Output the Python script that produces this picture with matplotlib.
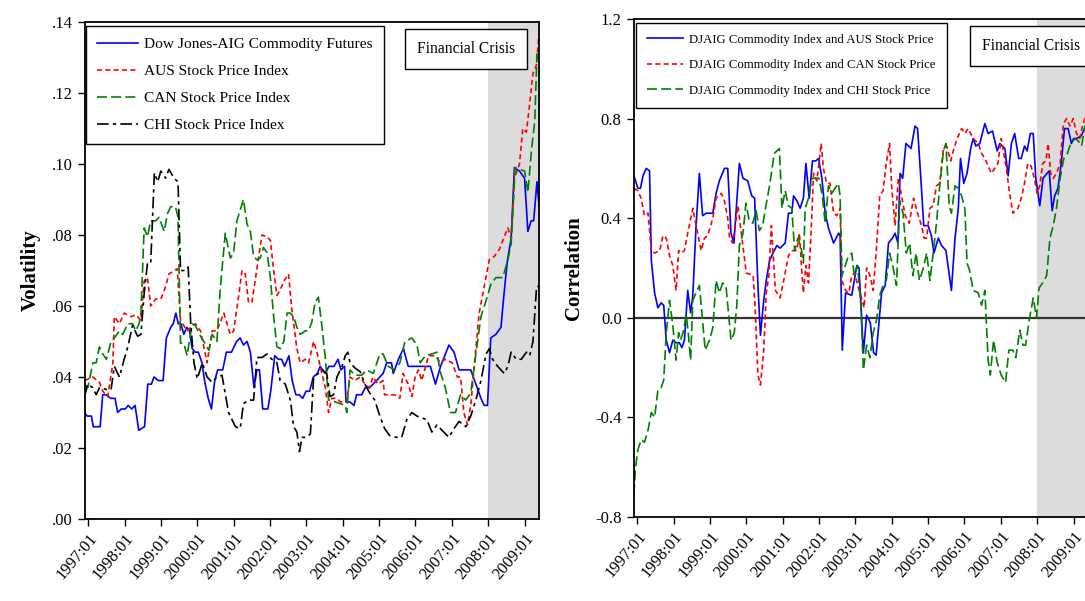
import matplotlib
matplotlib.use("Agg")
import matplotlib.pyplot as plt
from matplotlib.ticker import FixedLocator, FuncFormatter

plt.rcParams["font.family"] = ["Liberation Serif", "DejaVu Serif"]

# ---- left panel: volatility ----
dj_t = [1996.90, 1996.97, 1997.09, 1997.14, 1997.33, 1997.40, 1997.50, 1997.62, 1997.74, 1997.81,
        1997.91, 1998.02, 1998.10, 1998.20, 1998.29, 1998.39, 1998.55, 1998.64, 1998.74, 1998.81,
        1998.93, 1999.06, 1999.15, 1999.27, 1999.34, 1999.41, 1999.48, 1999.55, 1999.63, 1999.71,
        1999.79, 1999.86, 1999.94, 2000.03, 2000.13, 2000.20, 2000.30, 2000.39, 2000.48, 2000.56,
        2000.70, 2000.80, 2000.94, 2001.08, 2001.18, 2001.27, 2001.37, 2001.46, 2001.56, 2001.64,
        2001.71, 2001.80, 2001.94, 2002.02, 2002.13, 2002.23, 2002.32, 2002.40, 2002.52, 2002.61,
        2002.71, 2002.80, 2002.90, 2002.99, 2003.09, 2003.19, 2003.30, 2003.38, 2003.52, 2003.62,
        2003.76, 2003.87, 2003.95, 2004.05, 2004.09, 2004.19, 2004.31, 2004.38, 2004.52, 2004.62,
        2004.74, 2004.93, 2005.11, 2005.21, 2005.34, 2005.39, 2005.53, 2005.67, 2005.80, 2006.13,
        2006.27, 2006.41, 2006.55, 2006.69, 2006.92, 2007.06, 2007.20, 2007.52, 2007.66, 2007.80,
        2007.89, 2007.98, 2008.07, 2008.21, 2008.35, 2008.44, 2008.53, 2008.63, 2008.72, 2008.86,
        2009.00, 2009.09, 2009.18, 2009.25, 2009.34, 2009.40]
dj_v = [.030, .029, .029, .026, .026, .035, .035, .034, .034, .030,
        .031, .031, .032, .031, .032, .025, .026, .038, .038, .040,
        .039, .039, .051, .054, .055, .058, .055, .055, .052, .054,
        .053, .048, .047, .047, .044, .039, .034, .031, .039, .042,
        .042, .047, .047, .050, .051, .049, .050, .047, .037, .042,
        .042, .031, .031, .036, .046, .045, .045, .043, .046, .039,
        .035, .035, .034, .036, .036, .040, .041, .043, .041, .043,
        .043, .045, .042, .043, .033, .033, .032, .035, .035, .037,
        .037, .039, .041, .044, .044, .041, .045, .048, .043, .043,
        .043, .043, .038, .043, .049, .047, .042, .042, .038, .034,
        .032, .032, .051, .052, .054, .064, .073, .079, .099, .098,
        .096, .081, .084, .084, .095, .088]

aus_t = [1996.90, 1997.13, 1997.31, 1997.40, 1997.54, 1997.68, 1997.72, 1997.86, 1997.99, 1998.18,
         1998.31, 1998.45, 1998.54, 1998.63, 1998.72, 1998.86, 1999.00, 1999.13, 1999.22, 1999.45,
         1999.54, 1999.72, 1999.82, 1999.95, 2000.09, 2000.27, 2000.41, 2000.54, 2000.73, 2000.91,
         2001.00, 2001.14, 2001.23, 2001.32, 2001.41, 2001.50, 2001.59, 2001.69, 2001.78, 2001.92,
         2002.01, 2002.10, 2002.19, 2002.28, 2002.38, 2002.51, 2002.60, 2002.74, 2002.83, 2002.97,
         2003.06, 2003.20, 2003.29, 2003.38, 2003.52, 2003.61, 2003.70, 2003.84, 2003.93, 2004.02,
         2004.11, 2004.20, 2004.34, 2004.48, 2004.61, 2004.74, 2004.83, 2004.97, 2005.11, 2005.15,
         2005.43, 2005.57, 2005.66, 2005.80, 2005.90, 2005.99, 2006.08, 2006.17, 2006.36, 2006.55,
         2006.68, 2006.82, 2007.01, 2007.15, 2007.24, 2007.33, 2007.43, 2007.52, 2007.66, 2007.75,
         2007.89, 2008.03, 2008.17, 2008.31, 2008.44, 2008.54, 2008.63, 2008.72, 2008.86, 2008.95,
         2009.05, 2009.14, 2009.23, 2009.33, 2009.39]
aus_v = [.039, .040, .0385, .036, .0345, .044, .057, .055, .058, .057,
         .0575, .056, .067, .068, .060, .062, .062, .0655, .069, .0705,
         .056, .053, .054, .055, .053, .044, .053, .053, .058, .052,
         .053, .063, .070, .069, .061, .061, .067, .074, .080, .0795,
         .0785, .070, .063, .0645, .067, .069, .059, .048, .044, .045,
         .044, .050, .047, .043, .037, .030, .034, .034, .033, .033,
         .033, .040, .039, .040, .038, .037, .040, .038, .039, .035,
         .035, .034, .041, .038, .0345, .040, .042, .039, .046, .046,
         .044, .045, .044, .040, .040, .030, .0265, .032, .048, .058,
         .0655, .073, .074, .076, .0795, .082, .079, .096, .100, .110,
         .109, .117, .1255, .128, .136]

can_t = [1996.90, 1996.99, 1997.13, 1997.22, 1997.31, 1997.40, 1997.50, 1997.63, 1997.72, 1997.86,
         1997.95, 1998.09, 1998.22, 1998.31, 1998.40, 1998.45, 1998.54, 1998.63, 1998.72, 1998.86,
         1998.95, 1999.09, 1999.18, 1999.27, 1999.40, 1999.47, 1999.54, 1999.63, 1999.72, 1999.86,
         1999.95, 2000.09, 2000.18, 2000.32, 2000.41, 2000.54, 2000.63, 2000.77, 2000.91, 2001.00,
         2001.09, 2001.18, 2001.27, 2001.37, 2001.46, 2001.55, 2001.64, 2001.73, 2001.82, 2001.92,
         2002.01, 2002.10, 2002.19, 2002.28, 2002.38, 2002.47, 2002.56, 2002.65, 2002.74, 2002.83,
         2002.97, 2003.06, 2003.15, 2003.24, 2003.33, 2003.43, 2003.52, 2003.61, 2003.70, 2003.79,
         2003.93, 2004.07, 2004.11, 2004.20, 2004.34, 2004.52, 2004.66, 2004.84, 2005.02, 2005.11,
         2005.25, 2005.43, 2005.57, 2005.71, 2005.90, 2006.04, 2006.13, 2006.27, 2006.45, 2006.59,
         2006.68, 2006.82, 2006.96, 2007.10, 2007.24, 2007.38, 2007.52, 2007.66, 2007.80, 2007.94,
         2008.07, 2008.21, 2008.40, 2008.54, 2008.63, 2008.74, 2008.86, 2009.00, 2009.09, 2009.19,
         2009.28, 2009.34, 2009.40]
can_v = [.038, .037, .044, .044, .0485, .0465, .045, .050, .051, .053,
         .052, .055, .055, .053, .055, .058, .082, .0795, .084, .084,
         .085, .081, .086, .088, .088, .085, .0495, .0495, .046, .055,
         .0545, .0515, .050, .0475, .052, .050, .0645, .0805, .0735, .075,
         .084, .087, .090, .083, .081, .074, .073, .0735, .0765, .075,
         .068, .057, .0485, .048, .050, .058, .058, .057, .054, .052,
         .053, .053, .0555, .061, .0625, .054, .0455, .0335, .0335, .033,
         .0325, .032, .030, .042, .0405, .0405, .042, .041, .0465, .0465,
         .043, .042, .044, .050, .051, .049, .044, .046, .0465, .047,
         .0415, .037, .030, .030, .035, .0335, .0355, .0465, .057, .0615,
         .066, .068, .068, .073, .0775, .099, .0985, .098, .092, .104,
         .112, .131, .1305]

chi_t = [1996.90, 1996.99, 1997.13, 1997.22, 1997.31, 1997.50, 1997.63, 1997.72, 1997.86, 1997.99,
         1998.09, 1998.22, 1998.36, 1998.45, 1998.54, 1998.63, 1998.72, 1998.82, 1998.91, 1999.00,
         1999.13, 1999.22, 1999.36, 1999.47, 1999.54, 1999.68, 1999.75, 1999.82, 1999.91, 2000.00,
         2000.14, 2000.27, 2000.41, 2000.54, 2000.68, 2000.86, 2001.05, 2001.18, 2001.27, 2001.41,
         2001.55, 2001.64, 2001.78, 2001.92, 2002.05, 2002.19, 2002.28, 2002.42, 2002.56, 2002.65,
         2002.74, 2002.81, 2002.88, 2003.01, 2003.11, 2003.20, 2003.33, 2003.43, 2003.56, 2003.65,
         2003.75, 2003.84, 2003.98, 2004.07, 2004.14, 2004.20, 2004.34, 2004.48, 2004.61, 2004.74,
         2004.88, 2005.02, 2005.15, 2005.29, 2005.48, 2005.62, 2005.76, 2005.90, 2006.04, 2006.17,
         2006.31, 2006.45, 2006.59, 2006.73, 2006.92, 2007.06, 2007.20, 2007.38, 2007.52, 2007.66,
         2007.80, 2007.94, 2008.03, 2008.12, 2008.26, 2008.44, 2008.54, 2008.63, 2008.77, 2008.91,
         2009.05, 2009.14, 2009.23, 2009.33, 2009.40]
chi_v = [.0345, .038, .037, .035, .037, .0365, .0365, .043, .040, .045,
         .0485, .0545, .0515, .052, .0635, .072, .072, .0975, .095, .098,
         .096, .0985, .096, .095, .070, .070, .071, .055, .044, .0395,
         .044, .040, .0385, .040, .0405, .030, .026, .0255, .0325, .0335,
         .0335, .0455, .0455, .0465, .045, .044, .039, .038, .0335, .026,
         .0245, .019, .023, .023, .024, .040, .041, .042, .041, .0345,
         .035, .040, .043, .046, .047, .044, .0425, .0415, .038, .0355,
         .0335, .029, .0255, .0235, .023, .023, .028, .030, .029, .0285,
         .028, .0245, .0265, .025, .023, .0255, .0275, .026, .029, .0335,
         .039, .0465, .048, .045, .043, .041, .043, .047, .045, .045,
         .047, .046, .050, .0655, .0655]

# ---- right panel: correlation ----
aus_c_t = [1996.91, 1997.02, 1997.09, 1997.16, 1997.25, 1997.34, 1997.39, 1997.48, 1997.57, 1997.66,
           1997.73, 1997.80, 1997.89, 1997.98, 1998.07, 1998.16, 1998.23, 1998.30, 1998.39, 1998.47,
           1998.53, 1998.62, 1998.71, 1998.80, 1998.90, 1998.99, 1999.08, 1999.17, 1999.26, 1999.40,
           1999.49, 1999.58, 1999.66, 1999.81, 1999.91, 2000.04, 2000.15, 2000.23, 2000.32, 2000.39,
           2000.48, 2000.55, 2000.64, 2000.77, 2000.84, 2000.93, 2001.07, 2001.16, 2001.25, 2001.30,
           2001.39, 2001.48, 2001.57, 2001.64, 2001.73, 2001.82, 2001.91, 2001.99, 2002.08, 2002.17,
           2002.26, 2002.40, 2002.54, 2002.58, 2002.64, 2002.73, 2002.90, 2003.04, 2003.10, 2003.22,
           2003.31, 2003.41, 2003.50, 2003.57, 2003.72, 2003.82, 2003.91, 2004.02, 2004.09, 2004.17,
           2004.23, 2004.30, 2004.39, 2004.53, 2004.64, 2004.71, 2004.80, 2004.88, 2005.00, 2005.09,
           2005.16, 2005.28, 2005.37, 2005.49, 2005.64, 2005.74, 2005.83, 2005.89, 2005.98, 2006.07,
           2006.17, 2006.24, 2006.31, 2006.42, 2006.56, 2006.65, 2006.77, 2006.90, 2006.97, 2007.11,
           2007.20, 2007.29, 2007.38, 2007.49, 2007.56, 2007.65, 2007.72, 2007.81, 2007.89, 2007.96,
           2008.07, 2008.16, 2008.27, 2008.33, 2008.41, 2008.48, 2008.57, 2008.66, 2008.75, 2008.85,
           2008.94, 2009.00, 2009.07, 2009.21, 2009.30, 2009.40]
aus_c_v = [0.57, 0.52, 0.52, 0.57, 0.60, 0.59, 0.23, 0.10, 0.04, 0.06,
           0.05, -0.09, -0.14, -0.09, -0.10, -0.10, -0.12, -0.09, 0.11, 0.02,
           0.09, 0.37, 0.58, 0.41, 0.42, 0.42, 0.42, 0.50, 0.55, 0.60,
           0.60, 0.34, 0.30, 0.62, 0.56, 0.55, 0.49, 0.48, 0.13, -0.07,
           0.07, 0.15, 0.23, 0.27, 0.29, 0.28, 0.30, 0.42, 0.42, 0.49,
           0.47, 0.44, 0.48, 0.62, 0.48, 0.63, 0.63, 0.64, 0.56, 0.42,
           0.36, 0.30, 0.34, 0.33, -0.13, 0.10, 0.09, 0.21, 0.20, -0.14,
           0.01, -0.02, -0.14, -0.15, 0.10, 0.13, 0.30, 0.32, 0.34, 0.30,
           0.58, 0.56, 0.70, 0.68, 0.77, 0.76, 0.56, 0.37, 0.37, 0.33,
           0.26, 0.32, 0.29, 0.27, 0.11, 0.32, 0.44, 0.64, 0.54, 0.58,
           0.68, 0.72, 0.69, 0.70, 0.78, 0.74, 0.75, 0.67, 0.70, 0.68,
           0.57, 0.70, 0.74, 0.64, 0.64, 0.69, 0.67, 0.74, 0.74, 0.56,
           0.45, 0.56, 0.58, 0.59, 0.43, 0.49, 0.52, 0.62, 0.76, 0.76,
           0.70, 0.72, 0.72, 0.73, 0.76, 0.75]

can_c_t = [1996.91, 1997.02, 1997.11, 1997.20, 1997.30, 1997.39, 1997.48, 1997.62, 1997.71, 1997.80,
           1997.89, 1997.98, 1998.07, 1998.14, 1998.21, 1998.30, 1998.39, 1998.53, 1998.62, 1998.76,
           1998.85, 1998.94, 1999.08, 1999.17, 1999.31, 1999.40, 1999.49, 1999.54, 1999.63, 1999.77,
           1999.88, 2000.00, 2000.19, 2000.25, 2000.32, 2000.39, 2000.48, 2000.55, 2000.62, 2000.69,
           2000.80, 2000.93, 2001.03, 2001.16, 2001.27, 2001.39, 2001.46, 2001.53, 2001.57, 2001.64,
           2001.71, 2001.79, 2001.85, 2001.94, 2002.00, 2002.06, 2002.12, 2002.21, 2002.30, 2002.40,
           2002.49, 2002.58, 2002.63, 2002.73, 2002.82, 2002.90, 2002.99, 2003.06, 2003.15, 2003.24,
           2003.31, 2003.40, 2003.49, 2003.58, 2003.67, 2003.76, 2003.85, 2003.94, 2004.00, 2004.09,
           2004.18, 2004.28, 2004.37, 2004.48, 2004.60, 2004.71, 2004.82, 2004.89, 2004.96, 2005.05,
           2005.14, 2005.23, 2005.32, 2005.42, 2005.51, 2005.62, 2005.71, 2005.80, 2005.92, 2006.01,
           2006.10, 2006.24, 2006.38, 2006.47, 2006.56, 2006.65, 2006.74, 2006.83, 2006.92, 2007.01,
           2007.15, 2007.24, 2007.33, 2007.47, 2007.56, 2007.65, 2007.74, 2007.83, 2007.92, 2008.00,
           2008.07, 2008.15, 2008.24, 2008.30, 2008.37, 2008.44, 2008.53, 2008.63, 2008.72, 2008.81,
           2008.90, 2008.99, 2009.08, 2009.17, 2009.26, 2009.31, 2009.40]
can_c_v = [0.52, 0.51, 0.48, 0.41, 0.42, 0.27, 0.26, 0.27, 0.33, 0.32,
           0.25, 0.21, 0.11, 0.27, 0.26, 0.27, 0.34, 0.44, 0.37, 0.27,
           0.32, 0.33, 0.40, 0.48, 0.50, 0.47, 0.40, 0.32, 0.30, 0.45,
           0.32, 0.18, 0.17, 0.02, -0.23, -0.27, -0.13, 0.10, 0.17, 0.37,
           0.11, 0.08, 0.15, 0.25, 0.27, 0.27, 0.34, 0.18, 0.10, 0.21,
           0.14, 0.37, 0.58, 0.55, 0.62, 0.70, 0.60, 0.54, 0.54, 0.42,
           0.41, 0.44, 0.15, 0.11, 0.10, 0.17, 0.18, 0.13, 0.09, 0.04,
           0.20, 0.17, 0.11, 0.28, 0.49, 0.51, 0.62, 0.70, 0.52, 0.37,
           0.56, 0.48, 0.41, 0.38, 0.48, 0.42, 0.37, 0.32, 0.32, 0.44,
           0.45, 0.53, 0.54, 0.68, 0.69, 0.63, 0.68, 0.72, 0.76, 0.74,
           0.76, 0.72, 0.70, 0.66, 0.64, 0.61, 0.58, 0.60, 0.62, 0.72,
           0.60, 0.50, 0.42, 0.44, 0.48, 0.54, 0.62, 0.61, 0.56, 0.50,
           0.53, 0.62, 0.63, 0.70, 0.58, 0.56, 0.58, 0.62, 0.78, 0.80,
           0.77, 0.80, 0.74, 0.72, 0.78, 0.80, 0.80]

chi_c_t = [1996.91, 1996.95, 1997.02, 1997.11, 1997.20, 1997.30, 1997.39, 1997.48, 1997.57, 1997.66,
           1997.73, 1997.80, 1997.89, 1997.98, 1998.07, 1998.14, 1998.19, 1998.26, 1998.35, 1998.41,
           1998.47, 1998.53, 1998.62, 1998.71, 1998.78, 1998.87, 1998.99, 1999.08, 1999.17, 1999.26,
           1999.35, 1999.44, 1999.51, 1999.58, 1999.67, 1999.74, 1999.81, 1999.91, 1999.99, 2000.08,
           2000.18, 2000.27, 2000.36, 2000.45, 2000.54, 2000.64, 2000.77, 2000.91, 2000.98, 2001.07,
           2001.16, 2001.25, 2001.33, 2001.42, 2001.51, 2001.57, 2001.62, 2001.71, 2001.80, 2001.91,
           2002.00, 2002.09, 2002.17, 2002.26, 2002.35, 2002.44, 2002.53, 2002.58, 2002.63, 2002.70,
           2002.79, 2002.90, 2002.97, 2003.06, 2003.15, 2003.22, 2003.31, 2003.40, 2003.49, 2003.58,
           2003.67, 2003.76, 2003.85, 2003.94, 2004.04, 2004.13, 2004.22, 2004.31, 2004.40, 2004.49,
           2004.58, 2004.67, 2004.76, 2004.87, 2004.96, 2005.05, 2005.14, 2005.23, 2005.32, 2005.42,
           2005.49, 2005.58, 2005.64, 2005.74, 2005.83, 2005.92, 2006.01, 2006.07, 2006.14, 2006.24,
           2006.38, 2006.47, 2006.56, 2006.65, 2006.71, 2006.80, 2006.90, 2007.01, 2007.13, 2007.22,
           2007.33, 2007.41, 2007.52, 2007.61, 2007.68, 2007.78, 2007.89, 2007.98, 2008.05, 2008.15,
           2008.26, 2008.35, 2008.44, 2008.53, 2008.63, 2008.73, 2008.83, 2008.92, 2009.04, 2009.13,
           2009.22, 2009.31, 2009.40]
chi_c_v = [-0.71, -0.61, -0.53, -0.49, -0.50, -0.45, -0.38, -0.40, -0.29, -0.28,
           -0.25, -0.06, 0.07, -0.03, -0.17, -0.06, -0.09, -0.06, 0.01, -0.07,
           -0.17, 0.07, 0.10, 0.13, 0.02, -0.13, -0.09, -0.04, 0.15, 0.10,
           0.14, 0.13, 0.02, -0.09, -0.06, 0.05, 0.29, 0.34, 0.46, 0.39,
           0.38, 0.43, 0.35, 0.37, 0.45, 0.53, 0.66, 0.68, 0.44, 0.51,
           0.45, 0.44, 0.27, 0.32, 0.28, 0.22, 0.44, 0.48, 0.56, 0.56,
           0.56, 0.49, 0.38, 0.53, 0.50, 0.52, 0.54, 0.49, 0.17, 0.20,
           0.24, 0.26, 0.17, 0.21, 0.05, -0.21, -0.11, -0.16, -0.06, -0.01,
           0.09, 0.13, 0.15, 0.26, 0.20, 0.13, 0.47, 0.42, 0.26, 0.30,
           0.17, 0.26, 0.15, 0.20, 0.26, 0.15, 0.26, 0.38, 0.53, 0.67,
           0.70, 0.45, 0.42, 0.53, 0.52, 0.49, 0.44, 0.22, 0.19, 0.11,
           0.10, 0.05, 0.11, -0.17, -0.23, -0.09, -0.18, -0.23, -0.26, -0.13,
           -0.13, -0.16, -0.05, -0.11, -0.11, -0.01, 0.08, 0.00, 0.12, 0.14,
           0.17, 0.32, 0.37, 0.44, 0.56, 0.64, 0.66, 0.70, 0.72, 0.71,
           0.69, 0.77, 0.75]

years = list(range(1997, 2010))
year_labels = [f"{y}:01" for y in years]
crisis_start = 2008.0
x_lo, x_hi = 1996.90, 2009.40

fig = plt.figure(figsize=(10.85, 6.01), dpi=100)
ax1 = fig.add_axes([0.0779, 0.1364, 0.419, 0.827])
ax2 = fig.add_axes([0.5839, 0.1398, 0.419, 0.8286])


def style_axis(ax):
    ax.set_xlim(x_lo, x_hi)
    ax.axvspan(crisis_start, x_hi, color="#dcdcdc", lw=0, zorder=0)
    ax.xaxis.set_major_locator(FixedLocator(years))
    ax.set_xticklabels(year_labels, rotation=50, ha="right", rotation_mode="anchor", fontsize=12)
    ax.tick_params(direction="out", length=5, width=1, labelsize=12, colors="black")
    for s in ax.spines.values():
        s.set_linewidth(1.3)


style_axis(ax1)
ax1.plot(dj_t, dj_v, color="#0000ff", lw=1.2, label="Dow Jones-AIG Commodity Futures")
ax1.plot(aus_t, aus_v, color="#ff0000", lw=1.2, dashes=(3, 2), label="AUS Stock Price Index")
ax1.plot(can_t, can_v, color="#008000", lw=1.2, dashes=(6, 2.5), label="CAN Stock Price Index")
ax1.plot(chi_t, chi_v, color="black", lw=1.2, dashes=(7, 2.5, 2, 2.5), label="CHI Stock Price Index")
ax1.set_ylim(0, 0.14)
ax1.yaxis.set_major_locator(FixedLocator([0, .02, .04, .06, .08, .10, .12, .14]))
ax1.yaxis.set_major_formatter(FuncFormatter(lambda v, p: f"{v:.2f}"[1:]))
ax1.set_ylabel("Volatility", fontsize=15, fontweight="bold", labelpad=8)
leg1 = ax1.legend(loc="upper left", bbox_to_anchor=(0.003, 0.992), borderaxespad=0,
                  fontsize=11.1, fancybox=False, edgecolor="black", framealpha=1,
                  handlelength=2.6, handletextpad=0.4, labelspacing=0.85, borderpad=0.75)
leg1.get_frame().set_linewidth(1.0)
ax1.text(0.8394, 0.9457, "Financial Crisis", transform=ax1.transAxes, ha="center", va="center",
         fontsize=11.2, bbox=dict(boxstyle="square,pad=0.75", fc="white", ec="black", lw=1.0))

style_axis(ax2)
ax2.axhline(0, color="#333333", lw=1.6, zorder=1)
ax2.plot(aus_c_t, aus_c_v, color="#0000ff", lw=1.2, label="DJAIG Commodity Index and AUS Stock Price")
ax2.plot(can_c_t, can_c_v, color="#ff0000", lw=1.2, dashes=(3, 2), label="DJAIG Commodity Index and CAN Stock Price")
ax2.plot(chi_c_t, chi_c_v, color="#008000", lw=1.2, dashes=(6, 2.5), label="DJAIG Commodity Index and CHI Stock Price")
ax2.set_ylim(-0.8, 1.2)
ax2.yaxis.set_major_locator(FixedLocator([-0.8, -0.4, 0.0, 0.4, 0.8, 1.2]))
ax2.yaxis.set_major_formatter(FuncFormatter(lambda v, p: f"{v:.1f}"))
ax2.set_ylabel("Correlation", fontsize=15, fontweight="bold", labelpad=8)
leg2 = ax2.legend(loc="upper left", bbox_to_anchor=(0.006, 0.992), borderaxespad=0,
                  fontsize=9.2, fancybox=False, edgecolor="black", framealpha=1,
                  handlelength=2.8, handletextpad=0.5, labelspacing=1.05, borderpad=0.85)
leg2.get_frame().set_linewidth(1.0)
ax2.text(0.7657, 0.9458, "Financial Crisis", transform=ax2.transAxes, ha="left", va="center",
         fontsize=11.2, bbox=dict(boxstyle="square,pad=0.75", fc="white", ec="black", lw=1.0))

fig.savefig("out.png", dpi=100)
